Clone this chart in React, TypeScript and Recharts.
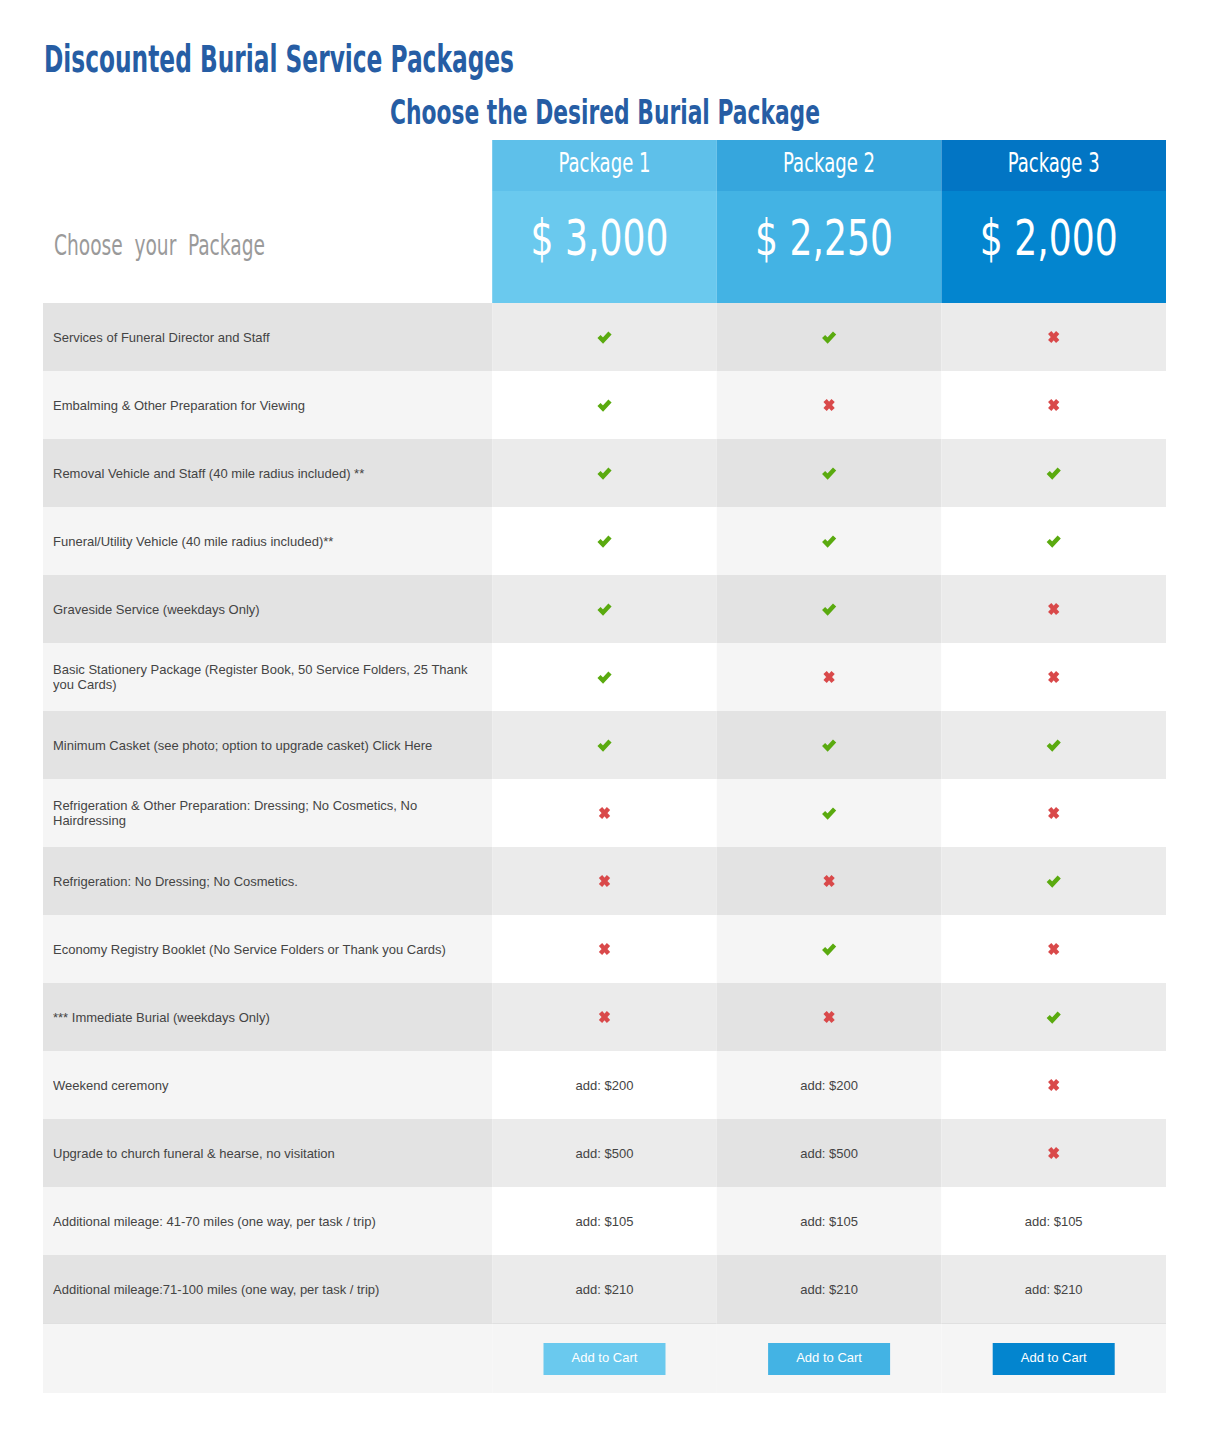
import React from "react";
import { BarChart, Bar, XAxis, YAxis } from "recharts";

// table content
const features = [
  "Services of Funeral Director and Staff",
  "Embalming & Other Preparation for Viewing",
  "Removal Vehicle and Staff (40 mile radius included) **",
  "Funeral/Utility Vehicle (40 mile radius included)**",
  "Graveside Service (weekdays Only)",
  "Basic Stationery Package (Register Book, 50 Service Folders, 25 Thank you Cards)",
  "Minimum Casket (see photo; option to upgrade casket) Click Here",
  "Refrigeration & Other Preparation: Dressing; No Cosmetics, No Hairdressing",
  "Refrigeration: No Dressing; No Cosmetics.",
  "Economy Registry Booklet (No Service Folders or Thank you Cards)",
  "*** Immediate Burial (weekdays Only)",
  "Weekend ceremony",
  "Upgrade to church funeral & hearse, no visitation",
  "Additional mileage: 41-70 miles (one way, per task / trip)",
  "Additional mileage:71-100 miles (one way, per task / trip)",
];

const packageNames = ["Package 1", "Package 2", "Package 3"];
const packagePrices = ["$ 3,000", "$ 2,250", "$ 2,000"];

const package1 = ["yes", "yes", "yes", "yes", "yes", "yes", "yes", "no", "no", "no", "no", "add: $200", "add: $500", "add: $105", "add: $210"];
const package2 = ["yes", "no", "yes", "yes", "yes", "no", "yes", "yes", "no", "yes", "no", "add: $200", "add: $500", "add: $105", "add: $210"];
const package3 = ["no", "no", "yes", "yes", "no", "no", "yes", "no", "yes", "no", "yes", "no", "no", "add: $105", "add: $210"];

const packageCols = [package1, package2, package3];

// layout / style
const TABLE_LEFT = 43;
const TABLE_WIDTH = 1123;
const FEATURE_SPAN = 2;
const PACKAGE_SPAN = 1;
const COND = "'Liberation Sans Narrow', 'DejaVu Sans Condensed', 'Roboto', sans-serif";
const BODY = "'Liberation Sans', Arial, sans-serif";
const TITLE_BLUE = "#265da4";
const TEXT = "#444444";
const nameBg = ["#5ec0ea", "#36a6dd", "#0275c4"];
const priceBg = ["#6ac9ee", "#43b3e4", "#0385cf"];
const oddBg = ["#ebebeb", "#e3e3e3", "#ebebeb"];
const evenBg = ["#ffffff", "#f5f5f5", "#ffffff"];

const makeRows = (keys: string[]) =>
  keys.map((key) => ({ key, featureSpan: FEATURE_SPAN, span0: PACKAGE_SPAN, span1: PACKAGE_SPAN, span2: PACKAGE_SPAN }));

const bodyRows = makeRows(features);
const headerRows = makeRows(["header"]);
const footerRows = makeRows(["footer"]);

function Check({ cx, cy }: { cx: number; cy: number }) {
  return (
    <path
      d={`M${cx - 5.5} ${cy - 0.5} L${cx - 1.5} ${cy + 3.5} L${cx + 5.5} ${cy - 4}`}
      fill="none"
      stroke="#5aaa0f"
      strokeWidth={4.4}
    />
  );
}

function Cross({ cx, cy }: { cx: number; cy: number }) {
  return (
    <path
      d={`M${cx - 4} ${cy - 4.5} L${cx + 4} ${cy + 4.5} M${cx + 4} ${cy - 4.5} L${cx - 4} ${cy + 4.5}`}
      fill="none"
      stroke="#d9494a"
      strokeWidth={4.4}
    />
  );
}

type Cell = { x: number; y: number; width: number; height: number; index: number; payload: any };

function TableChart({
  data,
  top,
  height,
  renderFeature,
  renderPackage,
}: {
  data: any[];
  top: number;
  height: number;
  renderFeature: (p: Cell) => React.ReactElement;
  renderPackage: (p: Cell, k: number) => React.ReactElement;
}) {
  return (
    <div style={{ position: "absolute", left: TABLE_LEFT, top }}>
      <BarChart
        width={TABLE_WIDTH}
        height={height}
        data={data}
        layout="vertical"
        margin={{ top: 0, right: 0, bottom: 0, left: 0 }}
        barCategoryGap={0}
        barGap={0}
      >
        <XAxis type="number" hide domain={[0, FEATURE_SPAN + 3 * PACKAGE_SPAN]} />
        <YAxis type="category" dataKey="key" hide />
        <Bar dataKey="featureSpan" stackId="t" isAnimationActive={false} shape={(p: any) => renderFeature(p)} />
        {[0, 1, 2].map((k) => (
          <Bar
            key={k}
            dataKey={`span${k}`}
            stackId="t"
            isAnimationActive={false}
            shape={(p: any) => renderPackage(p, k)}
          />
        ))}
      </BarChart>
    </div>
  );
}

export default function App() {
  return (
    <div style={{ position: "relative", width: 1211, height: 1444, margin: -8, background: "#fff" }}>
      <svg width={1211} height={140} style={{ position: "absolute", left: 0, top: 0 }}>
        <text x={44} y={72} fontFamily={COND} fontWeight="bold" fontSize={37} fill={TITLE_BLUE} textLength={470} lengthAdjust="spacingAndGlyphs">
          Discounted Burial Service Packages
        </text>
        <text x={390} y={124} fontFamily={COND} fontWeight="bold" fontSize={33} fill={TITLE_BLUE} textLength={430} lengthAdjust="spacingAndGlyphs">
          Choose the Desired Burial Package
        </text>
      </svg>

      <TableChart
        data={headerRows}
        top={140}
        height={163}
        renderFeature={(p) => (
          <g>
            <rect x={p.x} y={p.y} width={p.width} height={p.height} fill="#fff" />
            <text x={p.x + 11} y={p.y + 115} fontFamily={COND} fontSize={29} fill="#9a9a9a" wordSpacing={8} textLength={211} lengthAdjust="spacingAndGlyphs">
              Choose your Package
            </text>
          </g>
        )}
        renderPackage={(p, k) => {
          const cx = p.x + p.width / 2;
          return (
            <g>
              <rect x={p.x} y={p.y} width={p.width} height={51} fill={nameBg[k]} />
              <rect x={p.x} y={p.y + 51} width={p.width} height={p.height - 51} fill={priceBg[k]} />
              <text x={cx} y={p.y + 32} textAnchor="middle" fontFamily={COND} fontSize={27} fill="#fff" textLength={92} lengthAdjust="spacingAndGlyphs">
                {packageNames[k]}
              </text>
              <text x={cx - 5} y={p.y + 115} textAnchor="middle" fontFamily={COND} fontSize={50} fill="#fff" textLength={138} lengthAdjust="spacingAndGlyphs">
                {packagePrices[k]}
              </text>
            </g>
          );
        }}
      />

      <TableChart
        data={bodyRows}
        top={303}
        height={68 * features.length}
        renderFeature={(p) => (
          <g>
            <rect x={p.x} y={p.y} width={p.width} height={p.height} fill={p.index % 2 === 0 ? "#e3e3e3" : "#f5f5f5"} />
            <foreignObject x={p.x + 10} y={p.y} width={p.width - 20} height={p.height}>
              <div
                style={{
                  height: "100%",
                  display: "flex",
                  alignItems: "center",
                  fontFamily: BODY,
                  fontSize: 13,
                  lineHeight: "15px",
                  color: TEXT,
                }}
              >
                {p.payload.key}
              </div>
            </foreignObject>
          </g>
        )}
        renderPackage={(p, k) => {
          const value = packageCols[k][p.index];
          const cx = p.x + p.width / 2;
          const cy = p.y + p.height / 2;
          return (
            <g>
              <rect x={p.x} y={p.y} width={p.width} height={p.height} fill={p.index % 2 === 0 ? oddBg[k] : evenBg[k]} />
              {value === "yes" ? (
                <Check cx={cx} cy={cy} />
              ) : value === "no" ? (
                <Cross cx={cx} cy={cy} />
              ) : (
                <text x={cx} y={cy + 5} textAnchor="middle" fontFamily={BODY} fontSize={13} fill={TEXT}>
                  {value}
                </text>
              )}
            </g>
          );
        }}
      />

      <TableChart
        data={footerRows}
        top={303 + 68 * features.length}
        height={70}
        renderFeature={(p) => (
          <g>
            <rect x={p.x} y={p.y} width={p.width} height={p.height} fill="#f5f5f5" />
            <rect x={p.x} y={p.y} width={p.width} height={1} fill="#e0e0e0" />
          </g>
        )}
        renderPackage={(p, k) => {
          const cx = p.x + p.width / 2;
          return (
            <g>
              <rect x={p.x} y={p.y} width={p.width} height={p.height} fill="#f5f5f5" />
              <rect x={p.x} y={p.y} width={p.width} height={1} fill="#e0e0e0" />
              <rect x={cx - 61} y={p.y + 20} width={122} height={32} fill={priceBg[k]} />
              <text x={cx} y={p.y + 39} textAnchor="middle" fontFamily={BODY} fontSize={13} fill="#fff">
                Add to Cart
              </text>
            </g>
          );
        }}
      />
    </div>
  );
}
